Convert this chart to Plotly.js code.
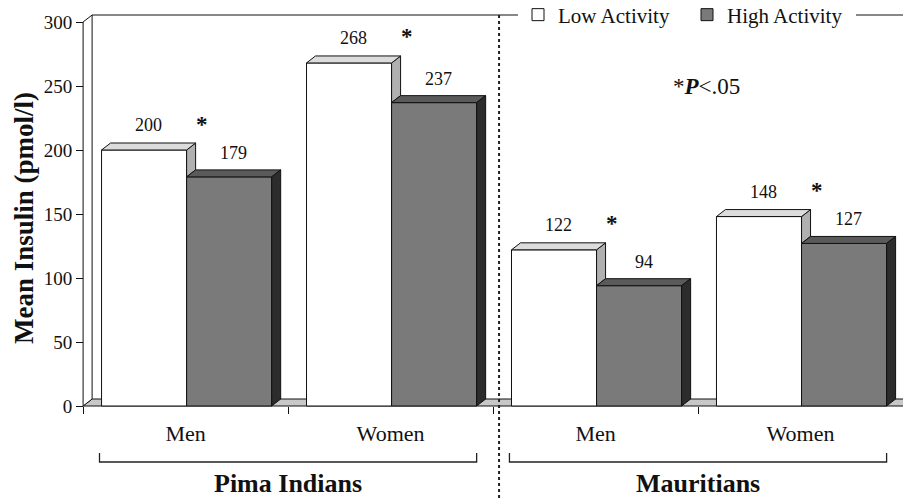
<!DOCTYPE html>
<html>
<head>
<meta charset="utf-8">
<script src="https://cdn.plot.ly/plotly-3.0.1.min.js"></script>
<style>html,body{margin:0;padding:0;background:#fff;}#chart{width:903px;height:498px;}</style>
</head>
<body>
<div id="chart"></div>
<script>
// ---- data ----
const categories = ['Men', 'Women', 'Men', 'Women'];
const groupNames = ['Pima Indians', 'Mauritians'];
const lowActivity = [200, 268, 122, 148];
const highActivity = [179, 237, 94, 127];
const significant = [true, true, true, true];
const yTickVals = [0, 50, 100, 150, 200, 250, 300];
const seriesNames = ['Low Activity', 'High Activity'];
const noteText = '*<b><i>P</i></b>&lt;.05';

// ---- geometry / style ----
const FONT = 'Liberation Serif, Times New Roman, serif';
const W = 903, H = 498;
const L = 79, R = 0, T = 12, B = 90;
const xRange = [-0.52, 3.5];
const yRange = [-1.5625, 307.8125];
const plotW = W - L - R, plotH = H - T - B;
const pxPerX = plotW / (xRange[1] - xRange[0]);
const pxPerY = plotH / (yRange[1] - yRange[0]);
const DX = 9 / pxPerX;   // depth in x units
const DY = 7 / pxPerY;   // depth in y units
const BW = 0.415, OFF_LOW = -0.41, OFF_HIGH = 0.005;
const xpos = categories.map((c, i) => i);
const yMax = yTickVals[yTickVals.length - 1];
const paperY = py => (H - B - py) / plotH;   // pixel row -> paper y
const dataY = py => (H - B - py) / pxPerY + yRange[0];

// faces
function poly(pts) { const xs = [], ys = []; pts.forEach(p => { p.forEach(q => { xs.push(q[0]); ys.push(q[1]); }); xs.push(p[0][0]); ys.push(p[0][1]); xs.push(null); ys.push(null); }); return {x: xs, y: ys}; }
const lowTop = poly(xpos.map((x, i) => { const a = x + OFF_LOW, b = a + BW, v = lowActivity[i]; return [[a, v], [b, v], [b + DX, v + DY], [a + DX, v + DY]]; }));
const lowSide = poly(xpos.map((x, i) => { const b = x + OFF_LOW + BW, v = lowActivity[i], d = highActivity[i]; return [[b, d], [b, v], [b + DX, v + DY], [b + DX, d + DY]]; }));
const highTop = poly(xpos.map((x, i) => { const a = x + OFF_HIGH, b = a + BW, v = highActivity[i]; return [[a, v], [b, v], [b + DX, v + DY], [a + DX, v + DY]]; }));
const highSide = poly(xpos.map((x, i) => { const b = x + OFF_HIGH + BW, v = highActivity[i]; return [[b, 0], [b, v], [b + DX, v + DY], [b + DX, DY]]; }));

function face(p, color) {
  return {type: 'scatter', mode: 'lines', x: p.x, y: p.y, fill: 'toself', fillcolor: color,
    line: {color: '#111', width: 1}, showlegend: false, hoverinfo: 'skip'};
}

const traces = [
  {type: 'bar', name: seriesNames[0], x: xpos, y: lowActivity, width: BW, offset: OFF_LOW,
    marker: {color: '#ffffff', line: {color: '#111', width: 1}}, hoverinfo: 'skip'},
  {type: 'bar', name: seriesNames[1], x: xpos, y: highActivity, width: BW, offset: OFF_HIGH,
    marker: {color: '#7a7a7a', line: {color: '#111', width: 1}}, hoverinfo: 'skip'},
  face(lowSide, '#b0b0b0'),
  face(lowTop, '#dcdcdc'),
  face(highTop, '#5a5a5a'),
  face(highSide, '#2c2c2c')
];

// annotations
const ann = [];
xpos.forEach((x, i) => {
  ann.push({x: x + OFF_LOW + BW / 2 + DX / 2, y: lowActivity[i] + DY, yshift: 18, text: String(lowActivity[i]),
    showarrow: false, xanchor: 'center', yanchor: 'middle', font: {family: FONT, size: 18, color: '#111'}});
  ann.push({x: x + OFF_HIGH + BW / 2 + DX / 2, y: highActivity[i] + DY, yshift: 17, text: String(highActivity[i]),
    showarrow: false, xanchor: 'center', yanchor: 'middle', font: {family: FONT, size: 18, color: '#111'}});
  if (significant[i]) {
    ann.push({x: x + 0.078, y: lowActivity[i] + DY, yshift: 19, text: '<b>*</b>',
      showarrow: false, xanchor: 'center', yanchor: 'middle', font: {family: FONT, size: 23, color: '#111'}});
  }
});
groupNames.forEach((g, k) => {
  ann.push({x: 2 * k + 0.5, xref: 'x', y: paperY(484), yref: 'paper', text: '<b>' + g + '</b>',
    showarrow: false, xanchor: 'center', yanchor: 'middle', font: {family: FONT, size: 26, color: '#111'}});
});
ann.push({x: 2.54, y: dataY(86), text: noteText, showarrow: false,
  xanchor: 'center', yanchor: 'middle', font: {family: FONT, size: 23, color: '#111'}});
ann.push({x: (24 - L) / plotW, xref: 'paper', y: paperY(218), yref: 'paper', text: '<b>Mean Insulin (pmol/l)</b>',
  textangle: -90, showarrow: false, xanchor: 'center', yanchor: 'middle', font: {family: FONT, size: 27, color: '#111'}});

// shapes: floor, left wall, back wall top, brackets, divider
const x0 = -0.5, x1 = 3.5;
const shapes = [
  {type: 'path', layer: 'below', xref: 'x', yref: 'y',
    path: `M${x0},0 L${x1},0 L${x1 + DX},${DY} L${x0 + DX},${DY} Z`, fillcolor: '#c8c8c8', line: {color: '#111', width: 1}},
  {type: 'path', layer: 'below', xref: 'x', yref: 'y',
    path: `M${x0},0 L${x0},${yMax} L${x0 + DX},${yMax + DY} L${x0 + DX},${DY} Z`, fillcolor: '#ffffff', line: {color: '#111', width: 1}},
  {type: 'line', layer: 'below', xref: 'x', yref: 'y', x0: x0 + DX, x1: x1 + DX, y0: yMax + DY, y1: yMax + DY,
    line: {color: '#111', width: 1}},
  {type: 'line', layer: 'above', xref: 'x', yref: 'paper', x0: 1.5 + 6 / pxPerX, x1: 1.5 + 6 / pxPerX,
    y0: paperY(15), y1: paperY(498), line: {color: '#222', width: 2, dash: 'dot'}}
];
groupNames.forEach((g, k) => {
  const m = 2 * k + 0.5, a = m - 0.92, b = m + 0.92, yb = paperY(462), yt = paperY(453);
  shapes.push({type: 'path', xref: 'x', yref: 'paper', path: `M${a},${yt} L${a},${yb} L${b},${yb} L${b},${yt}`,
    line: {color: '#222', width: 1.3}});
});

const layout = {
  width: W, height: H,
  margin: {l: L, r: R, t: T, b: B, autoexpand: false},
  paper_bgcolor: '#fff', plot_bgcolor: 'rgba(0,0,0,0)',
  barmode: 'overlay',
  font: {family: FONT, color: '#111'},
  showlegend: true,
  legend: {orientation: 'h', xref: 'container', yref: 'container', x: 518 / W, xanchor: 'left',
    y: 1 - 15 / H, yanchor: 'middle', entrywidth: 124, entrywidthmode: 'pixels',
    bgcolor: '#ffffff', borderwidth: 0, font: {family: FONT, size: 21, color: '#111'}, traceorder: 'normal'},
  xaxis: {range: xRange, anchor: 'free', position: ((H - B) - 406) / plotH,
    showline: false, showgrid: false, zeroline: false,
    tickmode: 'array', tickvals: xpos, ticktext: categories, ticks: '', ticklabelstandoff: 12,
    tickfont: {family: FONT, size: 22, color: '#111'},
    minor: {tickmode: 'array', tickvals: [-0.5, 0.5, 1.5, 2.5, 3.5], ticks: 'outside', ticklen: 7, tickcolor: '#111', tickwidth: 1, showgrid: false}},
  yaxis: {range: yRange, anchor: 'free', position: (83 - L) / plotW,
    showline: false, showgrid: false, zeroline: false,
    tickmode: 'array', tickvals: yTickVals, ticks: 'outside', ticklen: 7, tickcolor: '#111', tickwidth: 1,
    tickfont: {family: FONT, size: 19, color: '#111'}},
  annotations: ann,
  shapes: shapes,
  hovermode: false
};

Plotly.newPlot('chart', traces, layout, {displayModeBar: false, staticPlot: true});
</script>
</body>
</html>
